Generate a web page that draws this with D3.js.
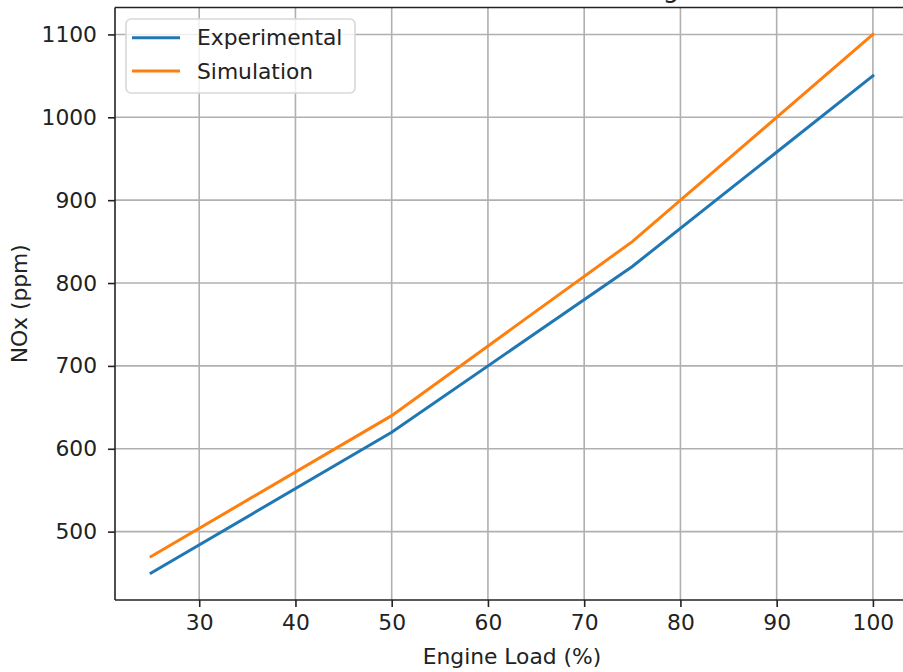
<!DOCTYPE html>
<html>
<head>
<meta charset="utf-8">
<script src="https://cdn.jsdelivr.net/npm/d3@7"></script>
<style>
	body { margin: 0; background: #fff; overflow: hidden; }
	svg { display: block; font-family: "DejaVu Sans", sans-serif; }
</style>
</head>
<body>
<div id="chart"></div>
<script>
/* NOx vs engine load */

// data
var loads = [25, 50, 75, 100];
var experimental = [450, 620, 820, 1050];
var simulation = [470, 640, 850, 1100];
var seriesNames = ["Experimental", "Simulation"];
var xTicks = [30, 40, 50, 60, 70, 80, 90, 100];
var yTicks = [500, 600, 700, 800, 900, 1000, 1100];

var width = 903, height = 672;
var margin = {top: 7.5, right: -6, bottom: 72, left: 115};
var colors = ["#1f77b4", "#ff7f0e"];
var fontSize = "21.8px";

var svg = d3.select("#chart").append("svg")
		.attr("width", width)
		.attr("height", height);

// matplotlib style 5% padding on the data range
var x = d3.scaleLinear()
	.domain([21.25, 103.75])
	.range([margin.left, width - margin.right]);

var y = d3.scaleLinear()
	.domain([417.5, 1132.5])
	.range([height - margin.bottom, margin.top]);

var plotLeft = x.range()[0], plotRight = x.range()[1];
var plotTop = y.range()[1], plotBottom = y.range()[0];
// the frame runs past the picture's right edge, so stop drawing at it
var drawRight = Math.min(plotRight, width);

// grid
svg.append("g").selectAll("line")
	.data(xTicks)
	.enter().append("line")
	.attr("x1", d => x(d)).attr("x2", d => x(d))
	.attr("y1", plotTop).attr("y2", plotBottom)
	.style("stroke", "#b0b0b0").style("stroke-width", 1.6);

svg.append("g").selectAll("line")
	.data(yTicks)
	.enter().append("line")
	.attr("x1", plotLeft).attr("x2", drawRight)
	.attr("y1", d => y(d)).attr("y2", d => y(d))
	.style("stroke", "#b0b0b0").style("stroke-width", 1.6);

// lines
var line = d3.line()
	.x(d => x(d[0]))
	.y(d => y(d[1]));

[experimental, simulation].forEach(function(vals, i){
	svg.append("path")
		.datum(loads.map((l, j) => [l, vals[j]]))
		.attr("d", line)
		.style("fill", "none")
		.style("stroke", colors[i])
		.style("stroke-width", 3)
		.style("stroke-linecap", "square");
});

// axes
var xAxis = svg.append("g")
	.attr("transform", `translate(0, ${plotBottom})`)
	.call(d3.axisBottom(x).tickValues(xTicks).tickFormat(d3.format("d")).tickSize(7).tickPadding(8));

var yAxis = svg.append("g")
	.attr("transform", `translate(${plotLeft}, 0)`)
	.call(d3.axisLeft(y).tickValues(yTicks).tickFormat(d3.format("d")).tickSize(7).tickPadding(11));

[xAxis, yAxis].forEach(function(ax){
	ax.selectAll(".domain").remove();
	ax.selectAll(".tick line").style("stroke", "#222").style("stroke-width", 1.6);
	ax.selectAll(".tick text")
		.style("font-family", "DejaVu Sans")
		.style("font-size", fontSize)
		.style("fill", "#222");
});

// spines (the right one falls just outside the picture)
var spines = [
	[plotLeft, plotTop, plotLeft, plotBottom],
	[plotLeft, plotTop, drawRight, plotTop],
	[plotLeft, plotBottom, drawRight, plotBottom]
];
svg.append("g").selectAll("line")
	.data(spines)
	.enter().append("line")
	.attr("x1", d => d[0]).attr("y1", d => d[1])
	.attr("x2", d => d[2]).attr("y2", d => d[3])
	.style("stroke", "#222").style("stroke-width", 1.6);

// labels
svg.append("text")
	.text("Engine Load (%)")
	.attr("x", (plotLeft + plotRight) / 2)
	.attr("y", 664)
	.style("text-anchor", "middle")
	.style("font-size", fontSize)
	.style("fill", "#222");

svg.append("text")
	.text("NOx (ppm)")
	.attr("transform", `translate(27, ${(plotTop + plotBottom) / 2}) rotate(-90)`)
	.style("text-anchor", "middle")
	.style("font-size", fontSize)
	.style("fill", "#222");

// title, almost all of it above the frame
svg.append("text")
	.text("Variation of NOx Emissions vs Engine Load")
	.attr("x", (plotLeft + plotRight) / 2)
	.attr("y", -3.5)
	.style("text-anchor", "middle")
	.style("font-size", "26px")
	.style("fill", "#222");

// legend
var legend = svg.append("g").attr("transform", "translate(126, 19)");

legend.append("rect")
	.attr("width", 229).attr("height", 74)
	.attr("rx", 5).attr("ry", 5)
	.style("fill", "#fff").style("fill-opacity", 0.8)
	.style("stroke", "#d8d8d8").style("stroke-width", 1.6);

var items = legend.selectAll(".item")
	.data(seriesNames)
	.enter().append("g")
	.attr("transform", (d, i) => `translate(0, ${18.7 + i * 33.3})`);

items.append("line")
	.attr("x1", 6).attr("x2", 54)
	.style("stroke", (d, i) => colors[i])
	.style("stroke-width", 3);

items.append("text")
	.text(d => d)
	.attr("x", 71)
	.attr("dy", "0.35em")
	.style("font-size", fontSize)
	.style("fill", "#222");
</script>
</body>
</html>
